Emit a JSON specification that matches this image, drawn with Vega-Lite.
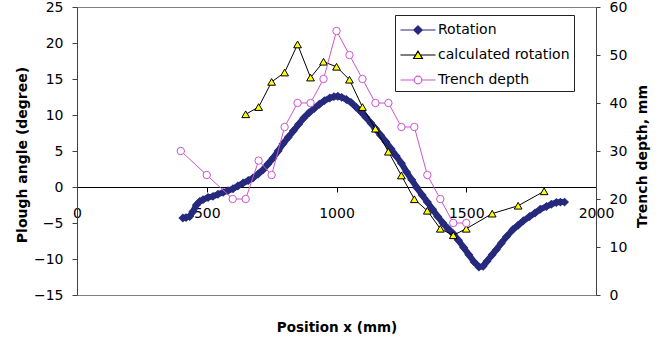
{
  "$schema": "https://vega.github.io/schema/vega-lite/v6.json",
  "width": 519,
  "height": 288,
  "autosize": {"type": "none"},
  "padding": {"left": 77, "top": 7, "right": 67, "bottom": 48},
  "background": "white",
  "config": {
    "font": "DejaVu Sans",
    "view": {"stroke": "#808080", "strokeWidth": 1},
    "axis": {
      "grid": false,
      "labelFont": "DejaVu Sans",
      "labelFontSize": 14,
      "labelColor": "black",
      "titleFont": "DejaVu Sans",
      "titleFontSize": 14,
      "titleFontWeight": "bold",
      "titleColor": "black",
      "domainColor": "#404040",
      "tickColor": "#404040"
    },
    "legend": {
      "orient": "none",
      "legendX": 318,
      "legendY": 8,
      "symbolSize": 400,
      "symbolStrokeWidth": 1.2,
      "symbolOpacity": 1,
      "symbolOffset": 8,
      "labelFont": "DejaVu Sans",
      "labelFontSize": 14,
      "labelColor": "black",
      "labelOffset": 9,
      "labelLimit": 300,
      "rowPadding": 7,
      "padding": 4,
      "strokeColor": "#222222",
      "fillColor": "white"
    }
  },
  "datasets": {
    "rotation": [
      {"x": 408, "angle": -4.3}, {"x": 420, "angle": -4.25}, {"x": 434, "angle": -4.1}, {"x": 447, "angle": -3.4},
      {"x": 460, "angle": -2.5}, {"x": 473, "angle": -2.0}, {"x": 486, "angle": -1.75}, {"x": 505, "angle": -1.45},
      {"x": 524, "angle": -1.3}, {"x": 543, "angle": -1.0}, {"x": 563, "angle": -0.75}, {"x": 582, "angle": -0.5},
      {"x": 601, "angle": -0.25}, {"x": 620, "angle": 0.15}, {"x": 640, "angle": 0.55}, {"x": 660, "angle": 0.9},
      {"x": 678, "angle": 1.25}, {"x": 698, "angle": 1.8}, {"x": 717, "angle": 2.4}, {"x": 736, "angle": 3.2},
      {"x": 755, "angle": 4.0}, {"x": 775, "angle": 5.0}, {"x": 794, "angle": 6.0}, {"x": 814, "angle": 6.9},
      {"x": 834, "angle": 7.8}, {"x": 854, "angle": 8.7}, {"x": 874, "angle": 9.6}, {"x": 894, "angle": 10.3},
      {"x": 914, "angle": 10.9}, {"x": 934, "angle": 11.5}, {"x": 954, "angle": 12.0}, {"x": 974, "angle": 12.35},
      {"x": 990, "angle": 12.55}, {"x": 1005, "angle": 12.6}, {"x": 1020, "angle": 12.45}, {"x": 1038, "angle": 12.15},
      {"x": 1056, "angle": 11.75}, {"x": 1075, "angle": 11.1}, {"x": 1094, "angle": 10.45}, {"x": 1113, "angle": 9.7},
      {"x": 1132, "angle": 8.9}, {"x": 1150, "angle": 8.1}, {"x": 1170, "angle": 7.2}, {"x": 1190, "angle": 6.3},
      {"x": 1210, "angle": 5.3}, {"x": 1230, "angle": 4.3}, {"x": 1250, "angle": 3.3}, {"x": 1270, "angle": 2.1},
      {"x": 1290, "angle": 1.0}, {"x": 1310, "angle": -0.1}, {"x": 1330, "angle": -1.1}, {"x": 1350, "angle": -2.1},
      {"x": 1370, "angle": -3.1}, {"x": 1390, "angle": -4.1}, {"x": 1410, "angle": -5.0}, {"x": 1430, "angle": -5.8},
      {"x": 1450, "angle": -6.5}, {"x": 1470, "angle": -7.4}, {"x": 1490, "angle": -8.4}, {"x": 1510, "angle": -9.4},
      {"x": 1530, "angle": -10.4}, {"x": 1549, "angle": -11.1}, {"x": 1565, "angle": -11.0}, {"x": 1580, "angle": -10.3},
      {"x": 1600, "angle": -9.4}, {"x": 1616, "angle": -8.7}, {"x": 1635, "angle": -7.8}, {"x": 1655, "angle": -6.9},
      {"x": 1680, "angle": -5.9}, {"x": 1700, "angle": -5.3}, {"x": 1720, "angle": -4.7}, {"x": 1744, "angle": -4.1},
      {"x": 1765, "angle": -3.6}, {"x": 1785, "angle": -3.1}, {"x": 1809, "angle": -2.7}, {"x": 1828, "angle": -2.4},
      {"x": 1847, "angle": -2.15}, {"x": 1863, "angle": -2.1}, {"x": 1879, "angle": -2.1}
    ],
    "calc": [
      {"x": 650, "angle": 10.1}, {"x": 700, "angle": 11.1}, {"x": 750, "angle": 14.6}, {"x": 800, "angle": 15.9},
      {"x": 850, "angle": 19.8}, {"x": 900, "angle": 15.2}, {"x": 950, "angle": 17.4}, {"x": 1000, "angle": 16.7},
      {"x": 1050, "angle": 14.9}, {"x": 1100, "angle": 11.1}, {"x": 1150, "angle": 8.1}, {"x": 1200, "angle": 4.9},
      {"x": 1250, "angle": 1.6}, {"x": 1300, "angle": -1.7}, {"x": 1350, "angle": -3.3}, {"x": 1400, "angle": -5.8},
      {"x": 1450, "angle": -6.7}, {"x": 1500, "angle": -5.8}, {"x": 1600, "angle": -3.7}, {"x": 1700, "angle": -2.6},
      {"x": 1800, "angle": -0.6}
    ],
    "depth": [
      {"x": 400, "depth": 30}, {"x": 500, "depth": 25}, {"x": 600, "depth": 20}, {"x": 650, "depth": 20},
      {"x": 700, "depth": 28}, {"x": 750, "depth": 25}, {"x": 800, "depth": 35}, {"x": 850, "depth": 40},
      {"x": 900, "depth": 40}, {"x": 950, "depth": 45}, {"x": 1000, "depth": 55}, {"x": 1050, "depth": 50},
      {"x": 1100, "depth": 45}, {"x": 1150, "depth": 40}, {"x": 1200, "depth": 40}, {"x": 1250, "depth": 35},
      {"x": 1300, "depth": 35}, {"x": 1350, "depth": 25}, {"x": 1400, "depth": 20}, {"x": 1450, "depth": 15},
      {"x": 1500, "depth": 15}
    ]
  },
  "encoding": {
    "x": {
      "field": "x",
      "type": "quantitative",
      "title": "Position x (mm)",
      "scale": {"domain": [0, 2000], "nice": false},
      "axis": {
        "values": [0, 500, 1000, 1500, 2000],
        "format": "d",
        "offset": -108,
        "tickSize": 5,
        "labelPadding": 14,
        "labelFlush": false,
        "labelOverlap": false,
        "domainColor": "black",
        "tickColor": "black",
        "titleFontSize": 13.5,
        "titleY": 144.5,
        "titleBaseline": "alphabetic"
      }
    }
  },
  "resolve": {"scale": {"y": "independent"}},
  "layer": [
    {
      "encoding": {
        "y": {
          "field": "angle",
          "type": "quantitative",
          "scale": {"domain": [-15, 25], "nice": false},
          "axis": {
            "title": "Plough angle (degree)",
            "values": [-15, -10, -5, 0, 5, 10, 15, 20, 25],
            "tickSize": 5,
            "labelPadding": 9,
            "titleX": -51,
            "titleY": 147.5,
            "titleAngle": 270,
            "titleAlign": "center",
            "titleBaseline": "alphabetic"
          }
        }
      },
      "layer": [
        {
          "data": {"name": "rotation"},
          "mark": {"type": "line", "color": "#262a7d", "strokeWidth": 6},
          "encoding": {}
        },
        {
          "data": {"name": "rotation"},
          "mark": {"type": "point", "shape": "diamond", "filled": true, "color": "#262a7d", "size": 80, "opacity": 1}
        },
        {
          "data": {"name": "calc"},
          "mark": {"type": "line", "color": "black", "strokeWidth": 1},
          "encoding": {}
        },
        {
          "data": {"name": "calc"},
          "mark": {"type": "point", "shape": "triangle-up", "filled": true, "fill": "#ffff00", "stroke": "black", "strokeWidth": 1, "size": 60, "opacity": 1}
        },
        {
          "data": {"values": [{"series": "Rotation"}, {"series": "calculated rotation"}, {"series": "Trench depth"}]},
          "transform": [{"filter": "false"}],
          "mark": {"type": "point", "filled": true, "opacity": 1},
          "encoding": {
            "shape": {
              "field": "series", "type": "nominal",
              "scale": {
                "domain": ["Rotation", "calculated rotation", "Trench depth"],
                "range": [
                  "M-1.75,0L1.75,0M0,-0.42L0.42,0L0,0.42L-0.42,0Z",
                  "M-1.75,0L-0.24,0M0.24,0L1.75,0M0,-0.38L0.44,0.35L-0.44,0.35Z",
                  "M-1.75,0L-0.38,0M0.38,0L1.75,0M0.38,0A0.38,0.38,0,1,1,-0.38,0A0.38,0.38,0,1,1,0.38,0"
                ]
              },
              "legend": {"title": null}
            },
            "fill": {
              "field": "series", "type": "nominal",
              "scale": {"domain": ["Rotation", "calculated rotation", "Trench depth"], "range": ["#262a7d", "#ffff00", "#ffffff"]},
              "legend": {"title": null}
            },
            "stroke": {
              "field": "series", "type": "nominal",
              "scale": {"domain": ["Rotation", "calculated rotation", "Trench depth"], "range": ["#262a7d", "#000000", "#cc55cc"]},
              "legend": {"title": null}
            }
          }
        }
      ]
    },
    {
      "data": {"name": "depth"},
      "encoding": {
        "y": {
          "field": "depth",
          "type": "quantitative",
          "scale": {"domain": [0, 60], "nice": false},
          "axis": {
            "orient": "right",
            "title": "Trench depth, mm",
            "values": [0, 10, 20, 30, 40, 50, 60],
            "tickSize": 4,
            "labelPadding": 9,
            "titleX": 50,
            "titleY": 149,
            "titleAngle": 270,
            "titleAlign": "center",
            "titleBaseline": "alphabetic"
          }
        }
      },
      "layer": [
        {
          "mark": {"type": "line", "color": "#cc55cc", "strokeWidth": 1},
          "encoding": {}
        },
        {
          "mark": {"type": "point", "shape": "circle", "filled": true, "fill": "#ffffff", "stroke": "#cc55cc", "strokeWidth": 1, "size": 55, "opacity": 1}
        }
      ]
    }
  ]
}
